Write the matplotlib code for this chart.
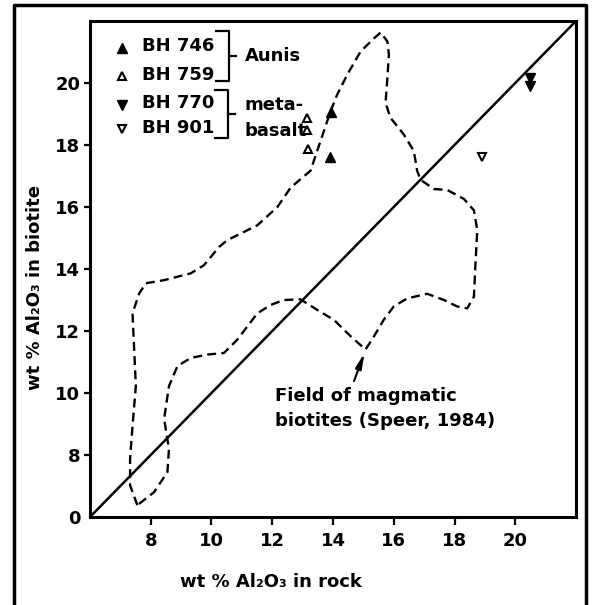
import matplotlib
matplotlib.use("Agg")
import matplotlib.pyplot as plt
from matplotlib.lines import Line2D

plt.rcParams["font.family"] = ["DejaVu Sans"]

# samples: wt% Al2O3 in rock vs in biotite
bh746_x = [13.95, 13.9]
bh746_y = [19.05, 17.6]
bh759_x = [13.13, 13.13, 13.17]
bh759_y = [18.88, 18.48, 17.86]
bh770_x = [20.47, 20.47]
bh770_y = [20.16, 19.9]
bh901_x = [18.89]
bh901_y = [17.6]

# outline of the field of magmatic biotites (Speer, 1984)
field_x = [7.56, 7.32, 7.32, 7.40, 7.51, 7.45, 7.40, 7.62, 7.84, 8.44, 9.32, 9.75,
           10.25, 10.52, 11.51, 12.17, 12.61, 13.26, 13.48, 13.70, 13.92, 14.14,
           14.47, 14.91, 15.35, 15.57, 15.79, 15.84, 15.79, 15.73, 15.89, 16.33,
           16.66, 16.77, 16.88, 17.32, 17.76, 18.31, 18.64, 18.75, 18.69, 18.64,
           18.42, 18.09, 17.65, 17.10, 16.44, 16.00, 15.67, 15.35, 15.07, 14.58,
           14.03, 13.48, 12.93, 12.38, 11.95, 11.51, 10.85, 10.41, 9.87, 9.32,
           8.88, 8.60, 8.44, 8.60, 8.55, 8.11, 7.56]
field_y = [6.38, 7.02, 7.87, 8.94, 10.22, 11.51, 12.57, 13.21, 13.54, 13.64, 13.86,
           14.12, 14.71, 14.93, 15.41, 16.00, 16.63, 17.17, 17.81, 18.45, 19.09,
           19.63, 20.27, 21.02, 21.44, 21.63, 21.34, 20.91, 20.16, 19.36, 18.88,
           18.34, 17.81, 17.17, 16.88, 16.58, 16.55, 16.26, 15.89, 15.25, 14.18,
           13.11, 12.73, 12.79, 13.00, 13.20, 13.05, 12.79, 12.36, 11.83, 11.40,
           11.83, 12.36, 12.68, 13.02, 13.00, 12.84, 12.57, 11.72, 11.29, 11.24,
           11.13, 10.87, 10.22, 9.16, 8.20, 7.45, 6.80, 6.38]

xticks = [8, 10, 12, 14, 16, 18, 20]
yticks = [6, 8, 10, 12, 14, 16, 18, 20]
ytick_labels = ["0", "8", "10", "12", "14", "16", "18", "20"]

fig = plt.figure(figsize=(5.92, 6.05), dpi=100)
ax = fig.add_axes([0.152, 0.1455, 0.821, 0.8198])

# outer frame (open at the bottom)
fig.add_artist(Line2D([0.0236, 0.0236, 0.99, 0.99], [-0.01, 0.9917, 0.9917, -0.01],
                      transform=fig.transFigure, color="black", lw=2.5))

ax.plot([6, 22], [6, 22], color="black", lw=1.8)
ax.plot(field_x, field_y, color="black", lw=1.7, dashes=(3.8, 2.2))

ms = 7
ax.plot(bh746_x, bh746_y, "^", color="black", ms=ms, ls="none")
ax.plot(bh759_x, bh759_y, "^", mfc="white", mec="black", mew=1.5, ms=ms - 1, ls="none")
ax.plot(bh770_x, bh770_y, "v", color="black", ms=ms, ls="none")
ax.plot(bh901_x, bh901_y, "v", mfc="white", mec="black", mew=1.5, ms=ms - 1, ls="none")

# legend drawn by hand
ax.plot([7.04], [21.12], "^", color="black", ms=ms)
ax.plot([7.04], [20.21], "^", mfc="white", mec="black", mew=1.5, ms=ms - 1)
ax.plot([7.04], [19.30], "v", color="black", ms=ms)
ax.plot([7.04], [18.50], "v", mfc="white", mec="black", mew=1.5, ms=ms - 1)
fs = 13
fw = "bold"
for label, yy in zip(["BH 746", "BH 759", "BH 770", "BH 901"], [21.19, 20.26, 19.36, 18.56]):
    ax.text(7.72, yy, label, fontsize=fs, fontweight=fw, ha="left", va="center")

ax.plot([10.14, 10.56, 10.56, 10.14], [21.67, 21.67, 20.06, 20.06], color="black", lw=1.6)
ax.plot([10.56, 10.80], [20.86, 20.86], color="black", lw=1.6)
ax.text(11.1, 20.86, "Aunis", fontsize=fs, fontweight=fw, ha="left", va="center")
ax.plot([10.12, 10.53, 10.53, 10.12], [19.78, 19.78, 18.21, 18.21], color="black", lw=1.6)
ax.plot([10.53, 10.78], [18.99, 18.99], color="black", lw=1.6)
ax.text(11.1, 19.29, "meta-", fontsize=fs, fontweight=fw, ha="left", va="center")
ax.text(11.1, 18.45, "basalt", fontsize=fs, fontweight=fw, ha="left", va="center")

ax.annotate("", xy=(15.07, 11.38), xytext=(14.66, 10.3),
            arrowprops=dict(arrowstyle="-|>,head_length=0.9,head_width=0.18",
                            color="black", lw=1.5))
ax.text(12.1, 9.9, "Field of magmatic", fontsize=fs, fontweight=fw, ha="left", va="center")
ax.text(12.1, 9.1, "biotites (Speer, 1984)", fontsize=fs, fontweight=fw, ha="left", va="center")

ax.set_xlim(6, 22)
ax.set_ylim(6, 22)
ax.set_xticks(xticks)
ax.set_xticklabels([str(t) for t in xticks], fontweight=fw)
ax.set_yticks(yticks)
ax.set_yticklabels(ytick_labels, fontweight=fw)
ax.yaxis.get_major_ticks()[0].tick1line.set_visible(False)
ax.tick_params(axis="x", direction="out", length=6, width=1.6, labelsize=fs, pad=5)
ax.tick_params(axis="y", direction="out", length=4, width=1.6, labelsize=fs, pad=3)
for sp in ax.spines.values():
    sp.set_linewidth(2.2)

fig.text(271 / 592, 1 - 582 / 605, "wt % Al₂O₃ in rock", fontsize=fs, fontweight=fw,
         ha="center", va="center")
fig.text(35 / 592, 1 - 287 / 605, "wt % Al₂O₃ in biotite", fontsize=fs, fontweight=fw,
         ha="center", va="center", rotation=90)

fig.savefig("out.png", dpi=100)
